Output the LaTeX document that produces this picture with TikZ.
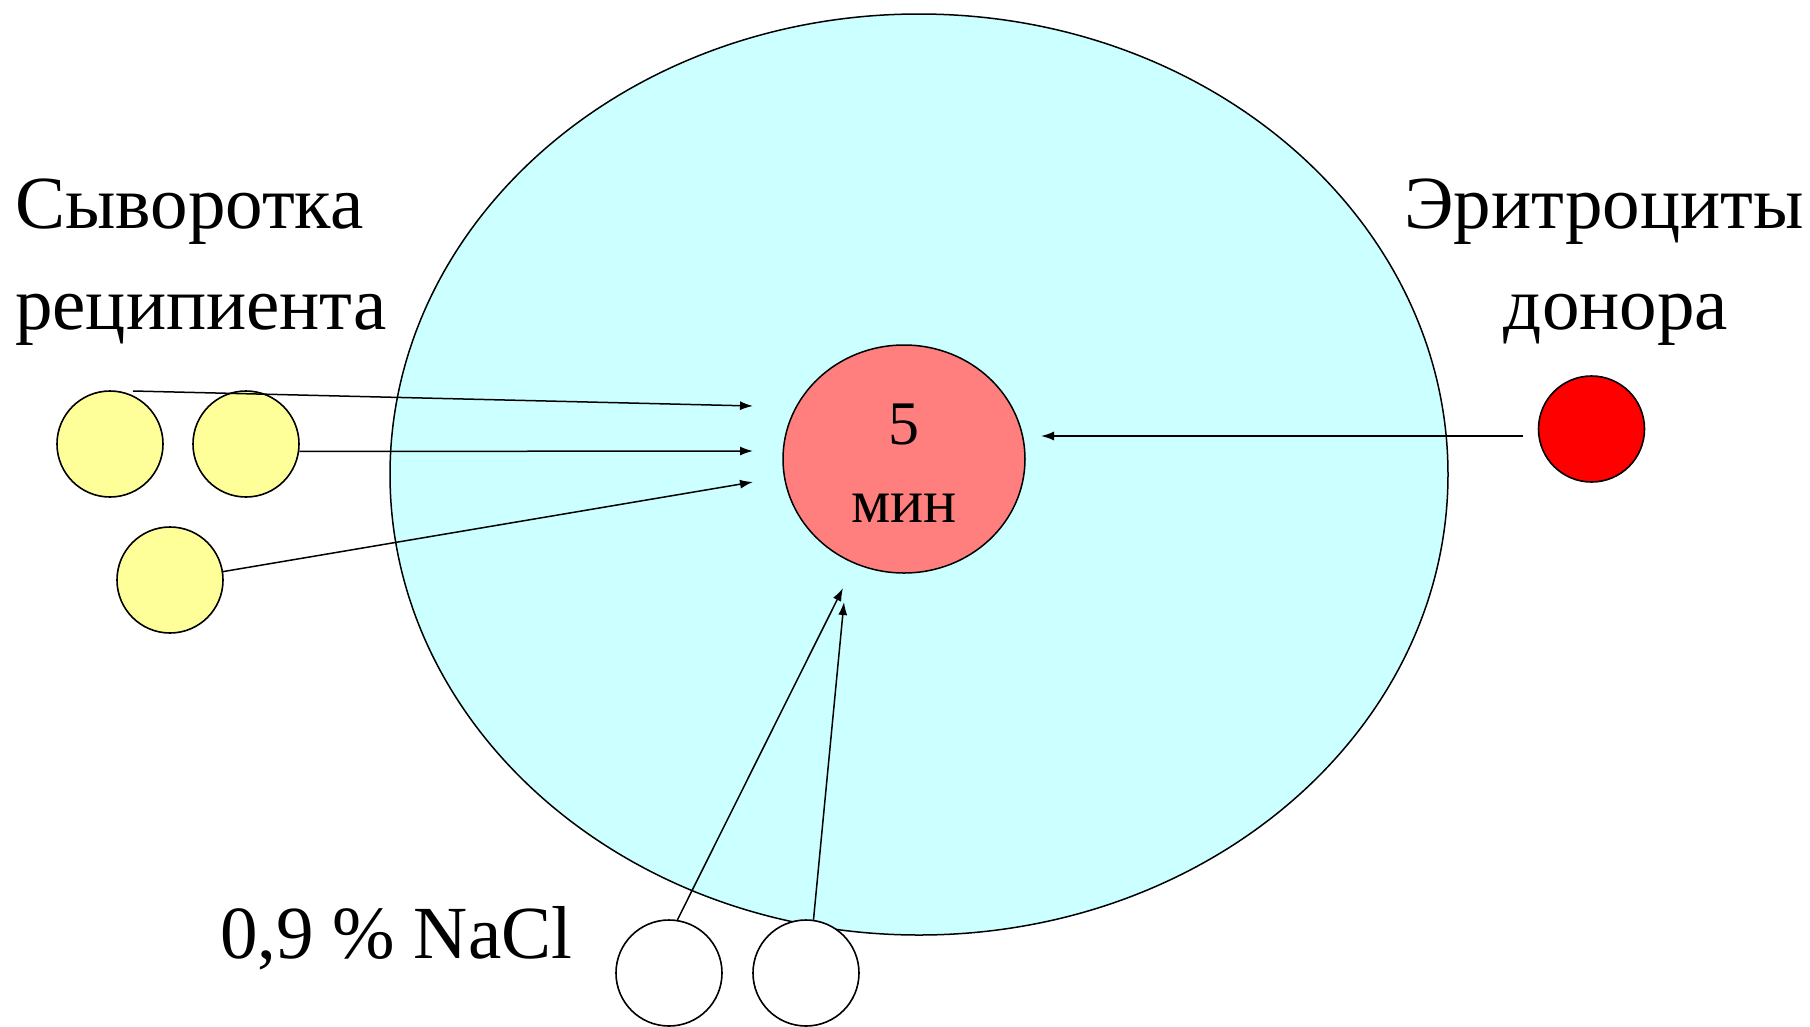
\documentclass[tikz,border=0pt]{standalone}
\usepackage{fontspec}
\setmainfont{Liberation Serif}
\usetikzlibrary{shapes.geometric,arrows.meta}
\definecolor{cellbg}{HTML}{CCFFFF}
\definecolor{pinkbg}{HTML}{FF7F7F}
\definecolor{yellowbg}{HTML}{FFFF99}
\definecolor{redbg}{HTML}{FF0000}
\begin{document}
\begin{tikzpicture}[x=1pt,y=-1pt,
  blob/.style={circle,draw=black,line width=1.6pt,minimum size=106pt,inner sep=0pt},
  arr/.style={line width=1.5pt,-{Latex[length=13pt,width=9pt]}},
  biglab/.style={font=\fontsize{75}{90}\selectfont,inner sep=0pt},
  smalllab/.style={font=\fontsize{62}{75}\selectfont,inner sep=0pt}]
\useasboundingbox (0,0) rectangle (1810,1026);
% big cell
\node[ellipse,draw=black,line width=1.5pt,fill=cellbg,minimum width=1058pt,minimum height=921pt,inner sep=0pt] (cell) at (919,474.5) {};
% inner pink
\node[ellipse,draw=black,line width=1.5pt,fill=pinkbg,minimum width=242pt,minimum height=228pt,inner sep=0pt] (mix) at (904,459) {};
\node[smalllab,anchor=base] (t5) at (904,444) {5};
\node[smalllab,anchor=base] (tmin) at (904,522) {мин};
% yellow serum drops
\node[blob,fill=yellowbg] (y1) at (110,444) {};
\node[blob,fill=yellowbg] (y2) at (246,444) {};
\node[blob,fill=yellowbg] (y3) at (170,580) {};
% red donor drop
\node[blob,fill=redbg] (r1) at (1591.5,429) {};
% saline drops
\node[blob,fill=white] (w1) at (669,973) {};
\node[blob,fill=white] (w2) at (806,973) {};
% labels
\node[biglab,anchor=base west] (l1a) at (15,228) {Сыворотка};
\node[biglab,anchor=base west] (l1b) at (15,329) {реципиента};
\node[biglab,anchor=base] (l2a) at (1604,228) {Эритроциты};
\node[biglab,anchor=base] (l2b) at (1616,329) {донора};
\node[biglab,anchor=base west] (l3) at (220,958) {0,9 \% NaCl};
% arrow end points
\coordinate (e1) at (753,406);
\coordinate (e2) at (753,451);
\coordinate (e3) at (753,482);
\coordinate (e4) at (1041,436);
\coordinate (s4) at (1523,436);
\coordinate (e5) at (843,588);
\coordinate (e6) at (844,602);
\coordinate (s1) at (133,391);
% arrows
\draw[arr] (s1) -- (e1);
\draw[arr] (y2.-8) -- (e2);
\draw[arr] (y3.9) -- (e3);
\draw[arr] (s4) -- (e4);
\draw[arr] (w1.81) -- (e5);
\draw[arr] (w2.82) -- (e6);
\end{tikzpicture}
\end{document}
